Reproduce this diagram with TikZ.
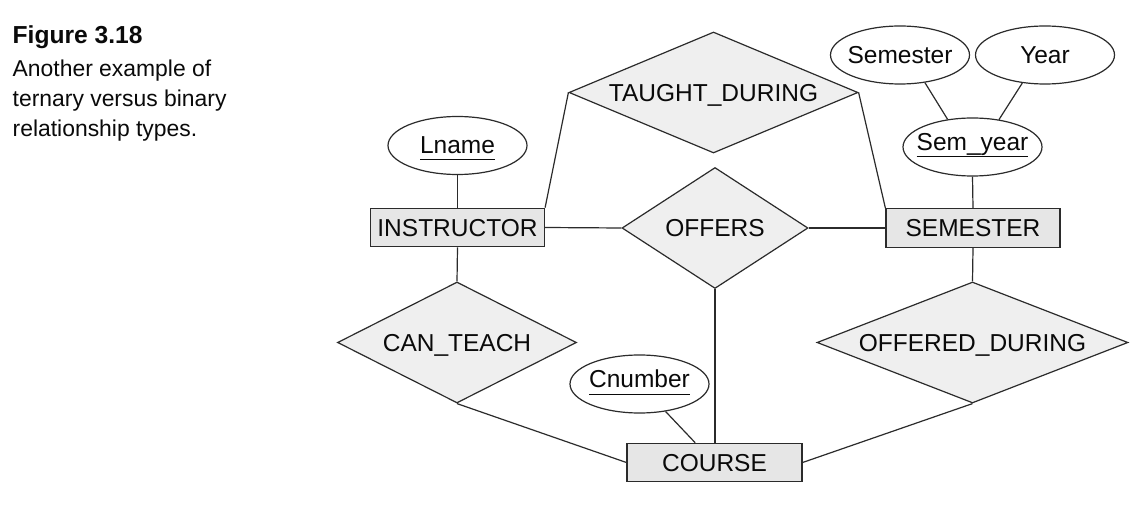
\documentclass[tikz,border=0pt]{standalone}
\usepackage{fontspec}
\setmainfont{Liberation Sans}
\usetikzlibrary{shapes.geometric,calc}
\definecolor{linec}{HTML}{2B2B2B}
\definecolor{entfill}{HTML}{E6E6E6}
\definecolor{relfill}{HTML}{EFEFEF}
\definecolor{txt}{HTML}{0A0A0A}
\newsavebox{\ulbox}
\newcommand{\keyul}[1]{\sbox{\ulbox}{#1}\rlap{\smash{\rule[-7pt]{\wd\ulbox}{1.2pt}}}\usebox{\ulbox}}
\begin{document}
\begin{tikzpicture}[x=1pt,y=-1pt,
  lbl/.style={font=\fontsize{24.5}{29}\selectfont, text=txt, inner sep=0pt, text height=17.5pt, text depth=0pt},
  entity/.style={draw=linec, line width=1.2pt, fill=entfill, rectangle, minimum width=174pt, minimum height=38.5pt, lbl},
  rel/.style={draw=linec, line width=1.2pt, fill=relfill, diamond, lbl},
  attr/.style={draw=linec, line width=1.2pt, fill=white, ellipse, minimum width=139pt, minimum height=58pt, inner sep=0pt},
  conn/.style={draw=linec, line width=1.2pt},
  captxt/.style={anchor=base west, inner sep=0pt, text=txt}]
\fill[white] (0,0) rectangle (1145,510);
\path[use as bounding box] (0,0) rectangle (1145,510);

% caption
\node[captxt, font=\fontsize{24.6}{29}\selectfont\bfseries] (fig) at (12.5,44) {Figure 3.18};
\node[captxt, font=\fontsize{22.9}{30}\selectfont] (c1) at (12.5,77) {Another example of};
\node[captxt, font=\fontsize{22.9}{30}\selectfont] (c2) at (12.5,107) {ternary versus binary};
\node[captxt, font=\fontsize{22.9}{30}\selectfont] (c3) at (12.5,137) {relationship types.};

% entities
\node[entity] (instr) at (457.5,227.5) {INSTRUCTOR};
\node[entity] (sem) at (973,228) {SEMESTER};
\node[entity, minimum width=175pt] (course) at (714.5,462.5) {COURSE};

% relationships
\node[rel, aspect=2.39, minimum width=289pt, minimum height=121pt] (taught) at (713.5,92.5) {TAUGHT\_DURING};
\node[rel, aspect=1.54, minimum width=186pt, minimum height=121pt] (offers) at (715,228) {OFFERS};
\node[rel, aspect=1.98, minimum width=239pt, minimum height=121pt] (canteach) at (457,342.5) {CAN\_TEACH};
\node[rel, aspect=2.57, minimum width=311pt, minimum height=121pt] (offdur) at (972.5,342.5) {OFFERED\_DURING};

% attributes
\node[attr] (lname) at (457.5,145.5) {};
\node[lbl] (lname-t) at (457.5,144.5) {\keyul{Lname}};
\node[attr] (semester) at (900,55) {};
\node[lbl] (semester-t) at (900,55) {Semester};
\node[attr] (year) at (1045,55) {};
\node[lbl] (year-t) at (1045,55) {Year};
\node[attr] (semyear) at (972.5,147) {};
\node[lbl] (semyear-t) at (972.5,141.5) {\keyul{Sem\_year}};
\node[attr] (cnumber) at (639.5,384) {};
\node[lbl] (cnumber-t) at (639.5,379) {\keyul{Cnumber}};

% connectors
\draw[conn] (lname.south) -- (instr.north);
\draw[conn] (semyear.south) -- (sem.north);
\draw[conn] (semester.-48) -- (semyear.132);
\draw[conn] (year.-129) -- (semyear.46);
\draw[conn] (taught.west) -- (instr.north east);
\draw[conn] (taught.east) -- (sem.north west);
\draw[conn] (instr.east) -- (offers.west);
\draw[conn] (offers.east) -- (sem.west);
\draw[conn] (offers.south) -- (offers.south |- course.north);
\draw[conn] (instr.south) -- (canteach.north);
\draw[conn] (sem.south) -- (offdur.north);
\draw[conn] (canteach.south) -- (course.west);
\draw[conn] (offdur.south) -- (course.east);
\coordinate (cnumfoot) at ($(course.north west)!0.39!(course.north east)$);
\draw[conn] (cnumber) -- (cnumfoot);
\end{tikzpicture}
\end{document}
